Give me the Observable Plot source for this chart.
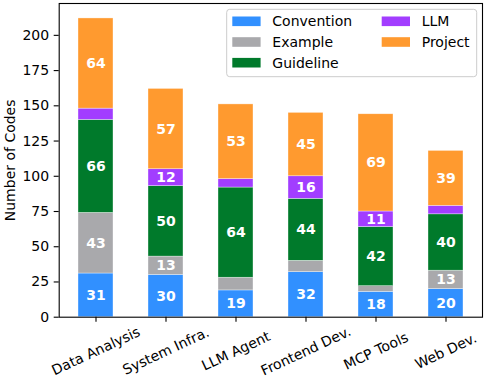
<!DOCTYPE html>
<html><head><meta charset="utf-8">
<script src="https://cdn.jsdelivr.net/npm/d3@7"></script>
<script src="https://cdn.jsdelivr.net/npm/@observablehq/plot@0.6"></script>
<style>body{margin:0;background:#fff}</style>
</head><body><div id="chart"></div>
<script>
const categories = ["Data Analysis", "System Infra.", "LLM Agent", "Frontend Dev.", "MCP Tools", "Web Dev."];
const series = ["Convention", "Example", "Guideline", "LLM", "Project"];
const colors = ["#3190FF", "#A9A9AC", "#007A2B", "#A23DFF", "#FF9A2F"];
const convention = [31, 30, 19, 32, 18, 20];
const example = [43, 13, 9, 8, 4, 13];
const guideline = [66, 50, 64, 44, 42, 40];
const llm = [8, 12, 6, 16, 11, 6];
const project = [64, 57, 53, 45, 69, 39];
const yTicks = [0, 25, 50, 75, 100, 125, 150, 175, 200];
const yLabel = "Number of Codes";

const valuesBySeries = [convention, example, guideline, llm, project];
const rows = [];
series.forEach((s, i) => categories.forEach((c, j) => rows.push({category: c, series: s, value: valuesBySeries[i][j]})));
const totals = categories.map((c, j) => d3.sum(valuesBySeries, v => v[j]));
const yMax = d3.max(totals) * 1.05;

const W = 486, H = 380, mL = 58.7, mR = 4, mT = 3, mB = 63.3;
const font = "'DejaVu Sans', sans-serif";

const plot = Plot.plot({
  width: W, height: H,
  marginTop: mT, marginRight: mR, marginBottom: mB, marginLeft: mL,
  style: {fontFamily: font, fontSize: "14px", color: "black", background: "white"},
  x: {domain: categories, paddingInner: 0.5, paddingOuter: 0.25, align: 0.5},
  y: {domain: [0, yMax]},
  color: {domain: series, range: colors},
  marks: [
    Plot.barY(rows, Plot.stackY({x: "category", y: "value", fill: "series", order: series, stroke: "white", strokeWidth: 0.6, strokeOpacity: 0.6})),
    Plot.text(rows, Plot.stackY({x: "category", y: "value", z: "series", order: series,
      text: d => d.value >= 10 ? String(d.value) : "", fill: "white", fontWeight: "bold", fontSize: 14})),
    Plot.frame({stroke: "black", strokeWidth: 1.1}),
    Plot.axisY({ticks: yTicks, tickSize: 5, tickPadding: 5, label: null, fontSize: 14, strokeWidth: 1.1}),
    Plot.axisX({tickSize: 5, tickFormat: () => "", label: null, strokeWidth: 1.1}),
    Plot.text(categories, {x: d => d, frameAnchor: "bottom", dy: 34, rotate: -25, textAnchor: "middle", lineAnchor: "middle", fontSize: 14}),
    Plot.text([yLabel], {frameAnchor: "left", dx: -49, rotate: -90, textAnchor: "middle", lineAnchor: "middle", fontSize: 14})
  ]
});

// Legend (upper right, two columns)
const svg = d3.select(plot);
const lgX = 226.7, lgY = 9.3, lgW = 250, lgH = 67.4;
const lg = svg.append("g").attr("font-family", font).attr("font-size", 14).attr("text-anchor", "start");
lg.append("rect").attr("x", lgX).attr("y", lgY).attr("width", lgW).attr("height", lgH).attr("rx", 3)
  .attr("fill", "white").attr("fill-opacity", 0.8).attr("stroke", "#cccccc").attr("stroke-width", 1);
series.forEach((s, i) => {
  const col = i < 3 ? 0 : 1, row = i < 3 ? i : i - 3;
  const sx = lgX + 5.6 + col * 149.4;
  const cy = lgY + 12 + row * 20.7;
  lg.append("rect").attr("x", sx).attr("y", cy - 4.8).attr("width", 28.3).attr("height", 9.6).attr("fill", colors[i]);
  lg.append("text").attr("x", sx + 40).attr("y", cy).attr("dy", "0.35em").attr("text-anchor", "start").attr("fill", "black").text(s);
});

document.getElementById("chart").appendChild(plot);
</script>
</body></html>
